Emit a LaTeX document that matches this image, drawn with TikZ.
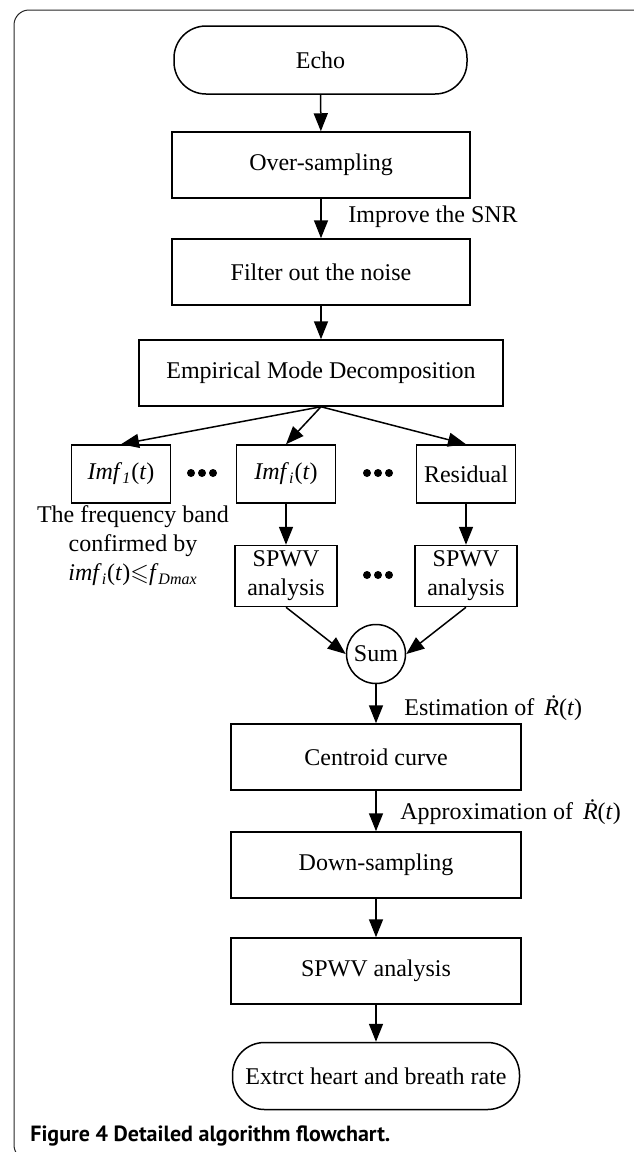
\documentclass[tikz,border=0pt,12pt]{standalone}
\usepackage{amssymb}
\usepackage{fontspec}
\setmainfont{Liberation Serif}
\newfontfamily\capfont{PT Sans}
\usetikzlibrary{arrows.meta}
\begin{document}
\begin{tikzpicture}[x=0.5pt, y=-0.5pt,
    frame/.style={rectangle, draw, line width=0.75pt, minimum width=149pt, minimum height=33pt, inner sep=0pt},
    terminal/.style={frame, rounded corners=16pt},
    small/.style={frame, minimum width=49.5pt, minimum height=29pt},
    sumnode/.style={circle, draw, line width=0.75pt, minimum size=29.5pt, inner sep=0pt},
    arr/.style={-{Triangle[length=9pt,width=7pt]}, line width=0.75pt},
    note/.style={anchor=west, inner sep=0pt}
]
    \useasboundingbox (0,0) rectangle (633,1152);
    \draw[line width=0.5pt, black!85, rounded corners=7.5pt] (660,10) -- (14,10) -- (14,1160) -- (60,1160);

    % Eingang
    \node[terminal, minimum width=146.5pt, minimum height=34pt] (echo) at (320.5,60) {Echo};
    \node[frame] (over) at (321,165) {Over-sampling};
    \node[note] (snr) at (348,217) {Improve the SNR};
    \node[frame] (filter) at (321,272) {Filter out the noise};
    \node[frame, minimum width=182pt] (emd) at (321,373) {Empirical Mode Decomposition};

    % Zerlegung
    \node[small] (imfa) at (121,474) {\textit{Imf}\textsubscript{\textit{1}}(\textit{t})};
    \node[small] (imfi) at (286,474) {\textit{Imf}\textsubscript{\textit{i}}(\textit{t})};
    \node[small] (resid) at (466,474) {Residual};
    \fill (191,473) circle (2pt) (202,473) circle (2pt) (213,473) circle (2pt);
    \fill (367,473) circle (2pt) (378,473) circle (2pt) (389,473) circle (2pt);
    \node[align=center] (band) at (133,546) {The frequency band\\confirmed by\\\textit{imf}\textsubscript{\textit{i}}(\textit{t})$\leqslant$\textit{f}\textsubscript{\textit{Dmax}}};

    % Analyse
    \node[small, minimum width=51pt, minimum height=30.5pt, align=center] (spwva) at (286,576) {SPWV\\analysis};
    \node[small, minimum width=51pt, minimum height=30.5pt, align=center] (spwvb) at (466,576) {SPWV\\analysis};
    \fill (367,575) circle (2pt) (378,575) circle (2pt) (389,575) circle (2pt);
    \node[sumnode] (sum) at (376,654) {Sum};

    % Ausgang
    \node[note] (est) at (404,708) {Estimation of \,\textit{\.R}(\textit{t})};
    \node[frame, minimum width=145pt] (centroid) at (376,757) {Centroid curve};
    \node[note] (approx) at (400,812) {Approximation of \,\textit{\.R}(\textit{t})};
    \node[frame, minimum width=145pt] (down) at (376,865) {Down-sampling};
    \node[frame, minimum width=145pt] (spwv) at (376,971) {SPWV analysis};
    \node[terminal, minimum width=143.5pt, minimum height=33.5pt] (rate) at (376,1076) {Extrct heart and breath rate};

    \node[note, font=\capfont\bfseries\fontsize{11}{13}\selectfont] (caption) at (30,1136) {Figure 4 Detailed algorithm flowchart.};

    \draw[arr] (echo) -- (over);
    \draw[arr] (over) -- (filter);
    \draw[arr] (filter) -- (emd);
    \draw[arr] (emd.south) -- (imfa.north);
    \draw[arr] (emd.south) -- (imfi.north);
    \draw[arr] (emd.south) -- (resid.north);
    \draw[arr] (imfi) -- (spwva);
    \draw[arr] (resid) -- (spwvb);
    \draw[arr] (spwva.south) -- (sum.west);
    \draw[arr] (spwvb.south) -- (sum.east);
    \draw[arr] (sum) -- (centroid);
    \draw[arr] (centroid) -- (down);
    \draw[arr] (down) -- (spwv);
    \draw[arr] (spwv) -- (rate);
\end{tikzpicture}
\end{document}
